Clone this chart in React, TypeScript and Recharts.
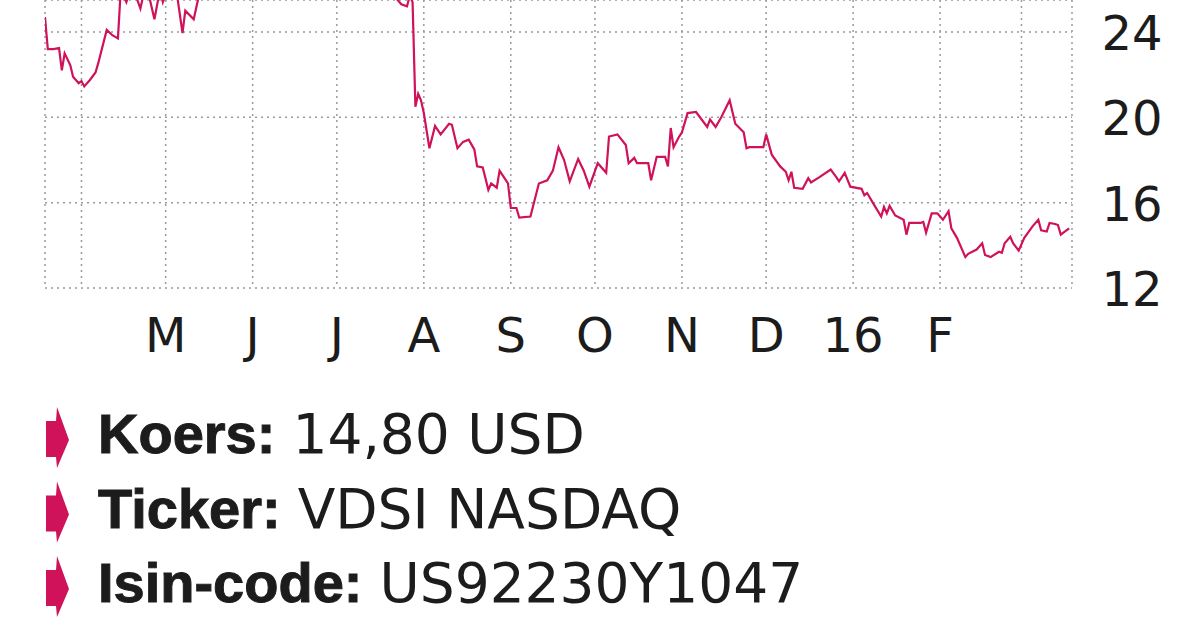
import React from 'react';
import { LineChart, Line, XAxis, YAxis, CartesianGrid } from 'recharts';

// day 0 = 1 March 2015, one point per reading of the close
const days = [
  18, 19, 21, 23, 24, 25, 27, 28, 30, 31, 32, 34, 36, 37, 40, 42, 44, 45, 47, 49,
  52, 54, 57, 59, 60, 62, 65, 67, 68, 71, 73, 76, 80, 84, 88, 92, 96, 100, 105, 110,
  115, 120, 125, 130, 135, 140, 143, 145, 147, 148, 149, 150, 151, 152, 153, 155, 157, 159, 162, 163,
  165, 167, 169, 171, 172, 174, 176, 177, 179, 180, 183, 184, 186, 187, 191, 194, 197, 199, 201, 203,
  205, 208, 210, 212, 215, 218, 219, 222, 225, 226, 228, 229, 233, 234, 236, 239, 240, 241, 242, 244,
  245, 247, 250, 254, 255, 257, 259, 262, 264, 267, 268, 269, 274, 275, 277, 280, 282, 283, 284, 285,
  288, 290, 291, 294, 298, 300, 301, 303, 305, 309, 310, 311, 313, 316, 317, 318, 319, 321, 324, 325,
  326, 330, 331, 332, 334, 336, 338, 340, 341, 343, 346, 347, 350, 352, 353, 355, 358, 359, 360, 362,
  363, 365, 367, 370, 372, 373, 375, 376, 378, 379, 380, 382, 383,
];

const prices = [
  24.7, 23.2, 23.2, 23.25, 22.2, 23.0, 22.45, 21.9, 21.6, 21.7, 21.45, 21.75, 22.1, 22.55, 24.1, 23.85, 23.7, 26.0, 25.4, 26.2,
  25.1, 26.3, 24.6, 26.0, 25.4, 26.1, 25.8, 23.95, 25.0, 24.6, 25.8, 26.6, 27.0, 26.4, 27.3, 26.8, 27.6, 27.1, 26.5, 27.2,
  26.7, 27.4, 26.9, 27.6, 26.8, 26.2, 25.6, 25.3, 25.2, 25.7, 25.4, 20.5, 21.1, 20.8, 20.2, 18.55, 19.6, 19.2, 19.7, 19.65,
  18.55, 18.85, 18.95, 18.5, 17.7, 17.65, 16.6, 16.9, 16.7, 17.5, 16.9, 15.75, 15.75, 15.3, 15.35, 16.9, 17.05, 17.5, 18.6, 18.0,
  17.0, 18.05, 17.5, 16.75, 17.85, 17.4, 19.1, 19.2, 18.7, 17.85, 18.1, 17.85, 17.85, 17.05, 18.15, 18.15, 17.7, 19.5, 18.6, 19.1,
  19.3, 20.2, 20.25, 19.55, 19.9, 19.55, 20.0, 20.8, 19.7, 19.3, 18.55, 18.6, 18.6, 19.2, 18.25, 17.7, 17.45, 17.05, 17.45, 16.7,
  16.65, 17.15, 16.95, 17.2, 17.55, 17.2, 17.0, 17.4, 16.75, 16.65, 16.35, 16.45, 16.0, 15.35, 15.8, 15.5, 15.85, 15.4, 15.2, 14.5,
  15.05, 15.05, 15.1, 14.6, 15.5, 15.5, 15.2, 15.6, 14.8, 14.35, 13.45, 13.6, 13.8, 14.1, 13.55, 13.45, 13.7, 13.65, 14.1, 14.4,
  14.1, 13.75, 14.35, 14.9, 15.2, 14.7, 14.65, 15.05, 15.0, 14.95, 14.5, 14.7, 14.8,
];

const monthTicks = [31, 61, 92, 122, 153, 184, 214, 245, 275, 306, 337, 366];
const monthLabels = ['', 'M', 'J', 'J', 'A', 'S', 'O', 'N', 'D', '16', 'F', ''];
const priceTicks = [12, 16, 20, 24];

const infoLabels = ['Koers:', 'Ticker:', 'Isin-code:'];
const infoValues = ['14,80 USD', 'VDSI NASDAQ', 'US92230Y1047'];

const data = days.map((day, i) => ({ day, price: prices[i] }));

const LINE_COLOR = '#cf1259';
const TEXT_COLOR = '#1c1c1c';

const MonthTick = ({ x, y, payload, index }: any) => (
  <text x={x} y={y} dy={64} textAnchor="middle" fontSize={48} fontFamily="DejaVu Sans" fill={TEXT_COLOR}>
    {monthLabels[monthTicks.indexOf(payload.value)] ?? monthLabels[index]}
  </text>
);

const PriceTick = ({ x, y, payload }: any) => (
  <text x={x} y={y} dx={60} dy={18} textAnchor="middle" fontSize={48} fontFamily="DejaVu Sans" fill={TEXT_COLOR}>
    {payload.value}
  </text>
);

const Marker = ({ cy }: { cy: number }) => (
  <polygon
    points={`46,${cy - 19} 56,${cy - 19} 57,${cy - 33} 69,${cy} 57,${cy + 28} 56,${cy + 17} 46,${cy + 17}`}
    fill={LINE_COLOR}
  />
);

export default function App() {
  return (
    <div
      style={{
        position: 'absolute',
        left: 0,
        top: 0,
        width: 1200,
        height: 627,
        background: '#fff',
        overflow: 'hidden',
      }}
    >
      <LineChart width={1200} height={380} data={data} margin={{ top: 0, right: 0, bottom: 0, left: 45 }}>
        <CartesianGrid stroke="#9a9a9a" strokeWidth={1.5} strokeDasharray="2 4" />
        <XAxis
          dataKey="day"
          type="number"
          domain={[18, 384]}
          ticks={monthTicks}
          height={92}
          tickSize={0}
          tickMargin={0}
          axisLine={false}
          tickLine={false}
          tick={<MonthTick />}
          interval={0}
          allowDataOverflow
        />
        <YAxis
          orientation="right"
          type="number"
          domain={[12, 25.5]}
          ticks={priceTicks}
          width={128}
          tickSize={0}
          tickMargin={0}
          axisLine={false}
          tickLine={false}
          tick={<PriceTick />}
          allowDataOverflow
        />
        <Line
          type="linear"
          dataKey="price"
          stroke={LINE_COLOR}
          strokeWidth={2.2}
          dot={false}
          isAnimationActive={false}
        />
      </LineChart>

      <svg width={1200} height={627} style={{ position: 'absolute', left: 0, top: 0 }}>
        {infoLabels.map((label, i) => {
          const baseline = 453 + i * 74.5;
          return (
            <g key={label}>
              <Marker cy={baseline - 13} />
              <text x={98} y={baseline} fill={TEXT_COLOR}>
                <tspan
                  fontFamily="Liberation Sans"
                  fontWeight={700}
                  fontSize={56}
                  stroke={TEXT_COLOR}
                  strokeWidth={1}
                >
                  {label}
                </tspan>
                <tspan dx={17} fontFamily="DejaVu Sans" fontSize={55}>
                  {infoValues[i]}
                </tspan>
              </text>
            </g>
          );
        })}
      </svg>
    </div>
  );
}
